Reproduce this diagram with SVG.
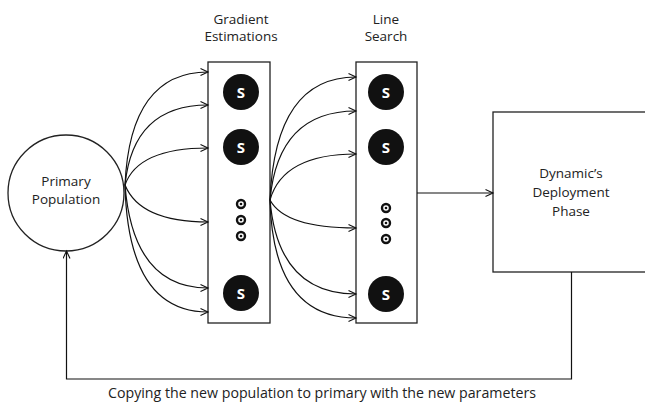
<svg xmlns="http://www.w3.org/2000/svg" width="645" height="406" viewBox="0 0 645 406">
<defs>
<style>
.box{fill:#fff;stroke:#222;stroke-width:1.3}
.ln{fill:none;stroke:#111;stroke-width:1.2}
.t{font-family:"Open Sans","Liberation Sans",sans-serif;font-size:13.5px;fill:#222;text-anchor:middle}
.cap{font-size:14.2px}
.s{font-family:"Open Sans","Liberation Sans",sans-serif;font-size:15px;font-weight:bold;fill:#fff;text-anchor:middle}
.bc{fill:#111}
.dot{fill:#fff;stroke:#111;stroke-width:2.4}
.dc{fill:#111}
</style>
<marker id="ah" markerWidth="10" markerHeight="10" refX="8" refY="4" orient="auto" markerUnits="userSpaceOnUse">
<path d="M0.5,0.5 L8,4 L0.5,7.5" fill="none" stroke="#111" stroke-width="1.1"/>
</marker>
</defs>
<g id="labels">
<text class="t" x="241" y="24">Gradient</text>
<text class="t" x="241" y="41">Estimations</text>
<text class="t" x="386" y="24">Line</text>
<text class="t" x="386" y="41">Search</text>
<text class="t cap" x="322" y="398">Copying the new population to primary with the new parameters</text>
</g>
<g id="primary">
<circle class="box" cx="66" cy="193" r="58"/>
<text class="t" x="66" y="186">Primary</text>
<text class="t" x="66" y="204">Population</text>
</g>
<g id="gradient">
<rect class="box" x="208" y="62" width="62" height="261"/>
<circle class="bc" cx="241" cy="92" r="18"/><text class="s" x="241" y="97.5">S</text>
<circle class="bc" cx="241" cy="147" r="18"/><text class="s" x="241" y="152.5">S</text>
<circle class="bc" cx="241" cy="293" r="18"/><text class="s" x="241" y="298.5">S</text>
<circle class="dot" cx="241" cy="204" r="4"/><circle class="dc" cx="241" cy="204" r="1.3"/>
<circle class="dot" cx="241" cy="220" r="4"/><circle class="dc" cx="241" cy="220" r="1.3"/>
<circle class="dot" cx="241" cy="236" r="4"/><circle class="dc" cx="241" cy="236" r="1.3"/>
</g>
<g id="linesearch">
<rect class="box" x="356" y="62" width="61" height="261"/>
<circle class="bc" cx="386" cy="92" r="18"/><text class="s" x="386" y="97.5">S</text>
<circle class="bc" cx="386" cy="147" r="18"/><text class="s" x="386" y="152.5">S</text>
<circle class="bc" cx="386" cy="294" r="18"/><text class="s" x="386" y="299.5">S</text>
<circle class="dot" cx="386" cy="208" r="4"/><circle class="dc" cx="386" cy="208" r="1.3"/>
<circle class="dot" cx="386" cy="223" r="4"/><circle class="dc" cx="386" cy="223" r="1.3"/>
<circle class="dot" cx="386" cy="239" r="4"/><circle class="dc" cx="386" cy="239" r="1.3"/>
</g>
<g id="deployment">
<rect class="box" x="493" y="112" width="160" height="160"/>
<text class="t" x="571" y="178">Dynamic’s</text>
<text class="t" x="571" y="197">Deployment</text>
<text class="t" x="571" y="216">Phase</text>
</g>
<g id="connectors">
<path class="ln" marker-end="url(#ah)" d="M125,185 Q130,72 208,72"/>
<path class="ln" marker-end="url(#ah)" d="M125,185 Q133,105 208,105"/>
<path class="ln" marker-end="url(#ah)" d="M125,185 Q138,148 208,148"/>
<path class="ln" marker-end="url(#ah)" d="M125,185 Q140,222 208,222"/>
<path class="ln" marker-end="url(#ah)" d="M125,185 Q133,288 208,288"/>
<path class="ln" marker-end="url(#ah)" d="M125,185 Q128,312 208,312"/>
<path class="ln" marker-end="url(#ah)" d="M270,200 Q275,77 356,77"/>
<path class="ln" marker-end="url(#ah)" d="M270,200 Q278,111 356,111"/>
<path class="ln" marker-end="url(#ah)" d="M270,200 Q283,154 356,154"/>
<path class="ln" marker-end="url(#ah)" d="M270,200 Q285,228 356,228"/>
<path class="ln" marker-end="url(#ah)" d="M270,200 Q278,294 356,294"/>
<path class="ln" marker-end="url(#ah)" d="M270,200 Q273,318 356,318"/>
<path class="ln" marker-end="url(#ah)" d="M417,193 L493,193"/>
<path class="ln" marker-end="url(#ah)" d="M571.5,272 L571.5,379 L66.5,379 L66.5,251"/>
</g>
</svg>
